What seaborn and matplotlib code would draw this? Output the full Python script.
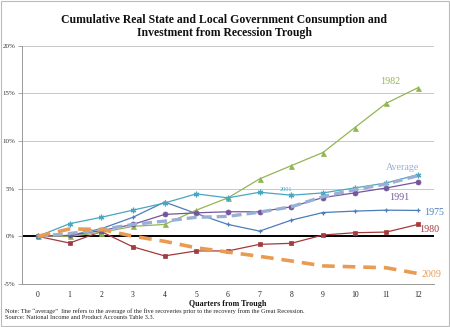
import numpy as np
import pandas as pd
import matplotlib
matplotlib.use("Agg")
import matplotlib.pyplot as plt
import seaborn as sns

quarters = list(range(13))
s1975 = [0, 0.1, 0.8, 2.0, 3.6, 2.4, 1.25, 0.55, 1.7, 2.5, 2.65, 2.75, 2.72]
s1980 = [0, -0.7, 0.5, -1.1, -2.05, -1.53, -1.53, -0.84, -0.73, 0.14, 0.38, 0.45, 1.25]
s1982 = [0, 0.0, 0.4, 1.05, 1.25, 2.75, 4.04, 6.03, 7.42, 8.8, 11.4, 13.97, 15.6]
s1991 = [0, 0.1, 0.6, 1.25, 2.3, 2.47, 2.58, 2.58, 3.1, 4.07, 4.56, 5.08, 5.7]
s2001 = [0, 1.33, 2.0, 2.75, 3.5, 4.46, 4.04, 4.63, 4.32, 4.56, 5.08, 5.6, 6.48]
s_avg = [0, 0.3, 0.7, 1.25, 1.6, 2.0, 2.1, 2.54, 3.1, 4.17, 4.9, 5.5, 6.37]
s2009 = [0, 0.78, 0.73, 0.02, -0.52, -1.2, -1.65, -2.1, -2.58, -3.1, -3.2, -3.3, -3.9]
yticks = [-5, 0, 5, 10, 15, 20]
ytick_labels = ["-5%", "0%", "5%", "10%", "15%", "20%"]

title = "Cumulative Real State and Local Government Consumption and\nInvestment from Recession Trough"
xlabel = "Quarters from Trough"
note = ("Note: The \u201caverage\u201d  line refers to the average of the five recoveries prior to the recovery from the Great Recession.\n"
        "Source: National Income and Product Accounts Table 3.3.")

sns.set_theme(style="white")
plt.rcParams['font.family'] = ['Liberation Serif', 'DejaVu Serif']

fig = plt.figure(figsize=(4.5, 3.27), dpi=100)
ax = fig.add_axes([0.049, 0.1315, 0.915, 0.7285])

series = [
    ("1975", s1975, "#4A7DBA", "-", 0.9, "+", 3.5),
    ("1980", s1980, "#A33A3C", "-", 0.9, "s", 2.4),
    ("1982", s1982, "#93B556", "-", 0.9, "^", 3.6),
    ("1991", s1991, "#75569A", "-", 0.9, "o", 3.6),
    ("2001", s2001, "#48A6C0", "-", 0.9, (6, 2, 0), 4.0),
    ("Average", s_avg, "#9AAFD6", (0, (3, 1.5)), 2.4, None, 0),
    ("2009", s2009, "#EB9A52", (0, (3.5, 2.2)), 2.6, None, 0),
]
for name, vals, col, ls, lw, mk, ms in series:
    df = pd.DataFrame({"q": quarters, "v": vals})
    sns.lineplot(data=df, x="q", y="v", ax=ax, color=col, linewidth=lw,
                 marker=mk, markersize=ms, markeredgecolor=col,
                 markeredgewidth=0.9 if mk in ("+", (6, 2, 0)) else 0.5,
                 legend=False)
    ax.lines[-1].set_linestyle(ls)

ax.axhline(0, color="black", linewidth=1.4, zorder=1)
ax.set_xlim(-0.5, 12.5)
ax.set_ylim(-5, 20)
ax.set_yticks(yticks)
ax.set_yticklabels(ytick_labels)
ax.set_xticks(quarters)
ax.set_xticklabels([str(q) for q in quarters])
ax.set_xticks(np.arange(-0.5, 13, 1), minor=True)
ax.tick_params(axis="x", which="major", length=0, labelsize=5.5, pad=5, colors="#222222")
ax.tick_params(axis="x", which="minor", length=3, width=0.6, color="#999999", direction="out")
ax.tick_params(axis="y", which="major", length=3, width=0.6, color="#999999", labelsize=5, pad=2, colors="#333333", left=True)
ax.grid(axis="y", color="#c8c8c8", linewidth=0.7)
ax.set_axisbelow(True)
for sp in ["top", "right"]:
    ax.spines[sp].set_visible(False)
for sp in ["left", "bottom"]:
    ax.spines[sp].set_color("#999999")
    ax.spines[sp].set_linewidth(0.7)
ax.set_xlabel(xlabel, fontsize=5.8, fontweight="bold", labelpad=1, color="#111111")
ax.set_ylabel("")

# series labels
lab_fs = 7.2
ax.text(10.8, 16.3, "1982", color="#93B556", fontsize=lab_fs, ha="left", va="center")
ax.text(11.0, 7.2, "Average", color="#9AAFD6", fontsize=lab_fs, ha="left", va="center")
ax.text(7.65, 4.9, "2001", color="#48A6C0", fontsize=4.5, ha="left", va="center")
ax.text(11.1, 4.1, "1991", color="#75569A", fontsize=lab_fs, ha="left", va="center")
ax.text(12.2, 2.55, "1975", color="#4A7DBA", fontsize=lab_fs, ha="left", va="center", clip_on=False)
ax.text(12.05, 0.73, "1980", color="#A33A3C", fontsize=lab_fs, ha="left", va="center", clip_on=False)
ax.text(12.1, -4.04, "2009", color="#EB9A52", fontsize=lab_fs, ha="left", va="center", clip_on=False)

fig.text(0.498, 0.958, title, ha="center", va="top", fontsize=8.5, fontweight="bold",
         linespacing=1.15, color="#111111")
fig.text(0.011, 0.058, note, ha="left", va="top", fontsize=4.6, linespacing=1.35, color="#222222")

fig.patches.append(plt.Rectangle((0.002, 0.002), 0.996, 0.996, transform=fig.transFigure,
                                 fill=False, edgecolor="#bbbbbb", linewidth=0.8))
fig.savefig("out.png", dpi=100)
